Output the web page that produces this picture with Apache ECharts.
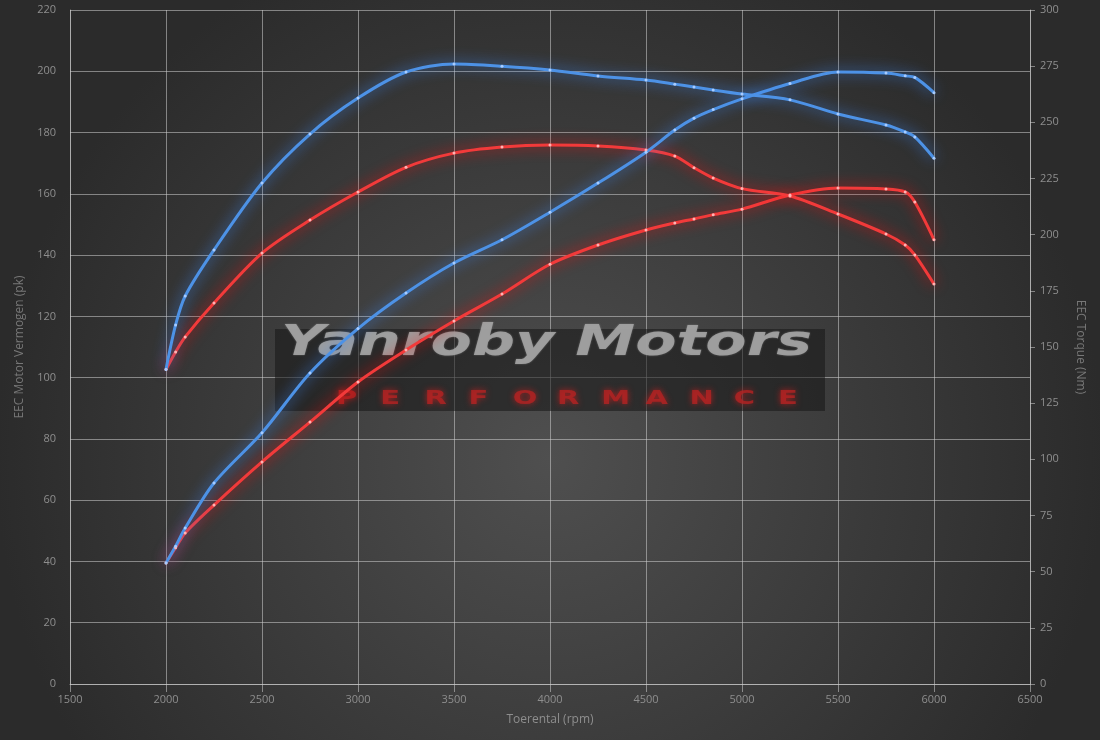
<!DOCTYPE html>
<html><head><meta charset="utf-8">
<script src="https://cdn.jsdelivr.net/npm/echarts@6/dist/echarts.min.js"></script>
<style>html,body{margin:0;padding:0;background:#333;}#c{width:1100px;height:740px;}</style>
</head><body><div id="c"></div>
<script>
const rpm = [2000,2050,2100,2250,2500,2750,3000,3250,3500,3750,4000,4250,4500,4650,4750,4850,5000,5250,5500,5750,5850,5900,6000];
const tunedPower = [39.5,45,50.9,65.6,82,101.5,116,127.6,137.4,145,154,163.5,173.6,180.8,184.7,187.5,191,196,199.8,199.4,198.5,198,193];
const tunedTorque = [140,159.8,172.7,193.2,223,244.8,260.8,272.4,276,275,273.3,270.6,268.8,267,265.7,264.4,262.6,260,253.7,248.8,245.7,243.5,234];
const stockPower = [39.5,44.5,49.3,58.4,72.5,85.5,98.6,109,118.5,127.3,137,143.3,148.2,150.5,151.8,153.2,155,159.6,161.9,161.6,160.6,157.3,145];
const stockTorque = [140,147.8,154.5,169.6,191.8,206.5,219,230,236.3,239,239.9,239.5,237.7,235,229.8,225.2,220.5,217.2,209.2,200.3,195.4,191,178];
const xName = 'Toerental (rpm)';
const leftName = 'EEC Motor Vermogen (pk)';
const rightName = 'EEC Torque (Nm)';
const brand = 'Yanroby Motors';
const brandSub = 'PERFORMANCE';

const pair = (xs, ys) => xs.map((x, i) => [x, ys[i]]);
const labelStyle = {color: '#8e8e8e', fontSize: 11, fontFamily: 'Open Sans'};
const gridLine = {lineStyle: {color: 'rgba(205,205,205,0.55)', width: 1}};

function glowSeries(name, data, yIndex, core, glow, dot) {
  return {
    name, type: 'line', yAxisIndex: yIndex, data, smooth: 0.3,
    symbol: 'circle', symbolSize: 3, showSymbol: true,
    itemStyle: {color: dot},
    lineStyle: {color: core, width: 3, shadowColor: glow, shadowBlur: 14},
    z: 5
  };
}

const subLetters = brandSub.split('').map((ch, i) => ({
  type: 'text', left: 336 + i * 44.2, top: 389, z: 2, scaleX: 1.45, originX: 336 + i * 44.2,
  style: {text: ch, fill: 'rgba(180,35,35,0.8)', font: 'bold 20px "DejaVu Sans"',
    textShadowColor: 'rgba(200,30,30,1)', textShadowBlur: 6}
}));

const chart = echarts.init(document.getElementById('c'), null, {renderer: 'canvas'});
chart.setOption({
  animation: false,
  backgroundColor: {type: 'radial', x: 0.5, y: 0.62, r: 0.75,
    colorStops: [{offset: 0, color: '#4f4f4f'}, {offset: 1, color: '#2b2b2b'}]},
  grid: {left: 70, right: 70, top: 10, bottom: 56},
  xAxis: {
    type: 'value', min: 1500, max: 6500, interval: 500,
    name: xName, nameLocation: 'middle', nameGap: 30,
    nameTextStyle: {color: '#8e8e8e', fontSize: 12, fontFamily: 'Open Sans'},
    axisLine: {show: true, lineStyle: {color: 'rgba(205,205,205,0.6)'}},
    axisTick: {show: true, length: 8, lineStyle: {color: 'rgba(205,205,205,0.55)'}},
    axisLabel: Object.assign({margin: 10, formatter: v => String(v)}, labelStyle),
    splitLine: Object.assign({show: true}, gridLine)
  },
  yAxis: [{
    type: 'value', min: 0, max: 220, interval: 20, position: 'left',
    name: leftName, nameLocation: 'middle', nameGap: 44, nameRotate: 90,
    nameTextStyle: {color: '#777', fontSize: 12, fontFamily: 'Open Sans'},
    axisLine: {show: true, lineStyle: {color: 'rgba(205,205,205,0.55)'}},
    axisTick: {show: false},
    axisLabel: Object.assign({margin: 14}, labelStyle),
    splitLine: Object.assign({show: true}, gridLine)
  }, {
    type: 'value', min: 0, max: 300, interval: 25, position: 'right',
    name: rightName, nameLocation: 'middle', nameGap: 44, nameRotate: -90,
    nameTextStyle: {color: '#777', fontSize: 12, fontFamily: 'Open Sans'},
    axisLine: {show: true, lineStyle: {color: 'rgba(205,205,205,0.55)'}},
    axisTick: {show: true, length: 5, lineStyle: {color: 'rgba(205,205,205,0.55)'}},
    axisLabel: Object.assign({margin: 10}, labelStyle),
    splitLine: {show: false}
  }],
  graphic: [
    {type: 'rect', shape: {x: 275, y: 329, width: 550, height: 82}, z: 1,
      style: {fill: 'rgba(22,22,22,0.55)'}},
    {type: 'text', left: 281, top: 322, z: 2, scaleX: 1.4, originX: 281,
      style: {text: brand, fill: 'rgba(165,165,165,0.88)', font: 'italic bold 43px "DejaVu Sans"',
        textShadowColor: 'rgba(165,165,165,0.6)', textShadowBlur: 2}}
  ].concat(subLetters),
  series: [
    glowSeries('Stock power', pair(rpm, stockPower), 0, '#f23a3a', 'rgba(255,10,10,0.95)', '#ffb3b3'),
    glowSeries('Stock torque', pair(rpm, stockTorque), 1, '#f23a3a', 'rgba(255,10,10,0.95)', '#ffb3b3'),
    glowSeries('Tuned power', pair(rpm, tunedPower), 0, '#4d92e6', 'rgba(60,140,255,0.95)', '#a8ccff'),
    glowSeries('Tuned torque', pair(rpm, tunedTorque), 1, '#4d92e6', 'rgba(60,140,255,0.95)', '#a8ccff')
  ]
});
</script></body></html>
